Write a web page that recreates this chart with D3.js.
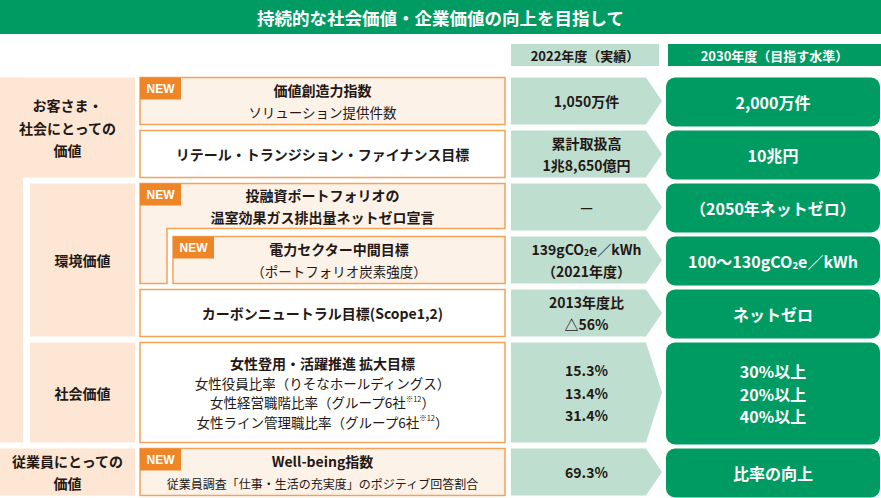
<!DOCTYPE html>
<html>
<head>
<meta charset="utf-8">
<script src="https://cdn.jsdelivr.net/npm/d3@7"></script>
<style>
  body { margin: 0; background: #fff; }
  svg { display: block; font-family: "Noto Sans CJK JP", "Noto Sans", sans-serif; }
</style>
</head>
<body>
<svg id="chart"></svg>
<script>
const width = 881;
const height = 498;

// data
const title = "持続的な社会価値・企業価値の向上を目指して";
const columnHeaders = ["2022年度（実績）", "2030年度（目指す水準）"];

const categories = [
  ["お客さま・", "社会にとっての", "価値"],
  ["環境価値"],
  ["社会価値"],
  ["従業員にとっての", "価値"],
];
const categoryRowCounts = [2, 3, 1, 1];
const categoryIsSub = [false, true, true, false];

const targetLabels = [
  ["価値創造力指数", "ソリューション提供件数"],
  ["リテール・トランジション・ファイナンス目標"],
  ["投融資ポートフォリオの", "温室効果ガス排出量ネットゼロ宣言"],
  ["電力セクター中間目標", "（ポートフォリオ炭素強度）"],
  ["カーボンニュートラル目標(Scope1,2)"],
  ["女性登用・活躍推進 拡大目標", "女性役員比率（りそなホールディングス）",
   "女性経営職階比率（グループ6社[※12]）", "女性ライン管理職比率（グループ6社[※12]）"],
  ["Well-being指数", "従業員調査「仕事・生活の充実度」のポジティブ回答割合"],
];
const headingLineCounts = [1, 1, 2, 1, 1, 1, 1];
const isNew = [true, false, true, true, false, false, true];
const parentRow = [-1, -1, -1, 2, -1, -1, -1];
const rowSpans = [1, 1, 1, 1, 1, 2, 1];

const values2022 = [
  ["1,050万件"],
  ["累計取扱高", "1兆8,650億円"],
  ["—"],
  ["139gCO{2}e／kWh", "（2021年度）"],
  ["2013年度比", "△56%"],
  ["15.3%", "13.4%", "31.4%"],
  ["69.3%"],
];
const targets2030 = [
  ["2,000万件"],
  ["10兆円"],
  ["（2050年ネットゼロ）"],
  ["100〜130gCO{2}e／kWh"],
  ["ネットゼロ"],
  ["30%以上", "20%以上", "40%以上"],
  ["比率の向上"],
];

// colours
const green = "#009B62";
const lightGreen = "#BEDFD0";
const peach = "#FDE6D3";
const cream = "#FCF2E8";
const orange = "#F4A258";
const newOrange = "#EE8527";
const ink = "#231815";

// columns
const col = {
  cat: [0, 135], stripe: 23, sub: 30,
  label: [140, 505], nestIndent: 33,
  val: [511, 646, 662],
  tgt: [666, 880],
};

const svg = d3.select("#chart").attr("width", width).attr("height", height);

// row slots
const slotStart = [];
rowSpans.reduce((acc, s, i) => { slotStart[i] = acc; return acc + s; }, 0);
const y = d3.scaleBand()
  .domain(d3.range(d3.sum(rowSpans)))
  .range([77.5, 495.5])
  .paddingInner(6 / 53);
const rowTop = i => y(slotStart[i]);
const rowBottom = i => y(slotStart[i] + rowSpans[i] - 1) + y.bandwidth();

// text line with {sub} and [sup] parts
function addLine(g, str, cx, cy, size, weight, color) {
  const t = g.append("text")
    .attr("x", cx).attr("y", cy)
    .attr("text-anchor", "middle")
    .attr("dominant-baseline", "central")
    .attr("font-size", size)
    .attr("font-weight", weight)
    .attr("fill", color);
  const parts = str.split(/(\{[^}]*\}|\[[^\]]*\])/).filter(s => s);
  let shift = 0;
  parts.forEach(p => {
    let target = 0, txt = p, fs = null;
    if (p[0] === "{") { target = size * 0.22; txt = p.slice(1, -1); fs = size * 0.6; }
    else if (p[0] === "[") { target = -size * 0.35; txt = p.slice(1, -1); fs = size * 0.55; }
    const ts = t.append("tspan").attr("dy", target - shift).text(txt);
    if (fs) ts.attr("font-size", fs);
    shift = target;
  });
  return t;
}
function addLines(g, lines, cx, cy, lh, styleFn) {
  lines.forEach((l, i) => {
    const s = styleFn(i);
    addLine(g, l, cx, cy + (i - (lines.length - 1) / 2) * lh, s.size, s.weight, s.color);
  });
}

// title banner
svg.append("rect").attr("x", 0).attr("y", 0).attr("width", width).attr("height", 34).attr("fill", green);
addLine(svg, title, width / 2, 17, 17.5, 700, "#fff");

// column headers
svg.append("rect").attr("x", col.val[0]).attr("y", 44).attr("width", col.val[2] - 3 - col.val[0]).attr("height", 22).attr("fill", lightGreen);
addLine(svg, columnHeaders[0], (col.val[0] + col.val[2] - 3) / 2, 55, 13, 700, ink);
svg.append("rect").attr("x", col.tgt[0] + 2).attr("y", 44).attr("width", col.tgt[1] - 1 - col.tgt[0]).attr("height", 22).attr("fill", green);
addLine(svg, columnHeaders[1], (col.tgt[0] + 2 + col.tgt[1] + 1) / 2, 55, 13, 700, "#fff");

// categories
const gCat = svg.append("g");
let rowIdx = 0;
const catRange = categoryRowCounts.map(n => { const r = [rowIdx, rowIdx + n - 1]; rowIdx += n; return r; });
const lastSub = d3.max(catRange.filter((r, i) => categoryIsSub[i]), r => r[1]);
categories.forEach((lines, i) => {
  const top = rowTop(catRange[i][0]);
  const bot = rowBottom(catRange[i][1]);
  const x0 = categoryIsSub[i] ? col.sub : col.cat[0];
  gCat.append("rect").attr("x", x0).attr("y", top).attr("width", col.cat[1] - x0).attr("height", bot - top).attr("fill", peach);
  if (!categoryIsSub[i] && categoryIsSub[i + 1]) {
    gCat.append("rect").attr("x", 0).attr("y", top).attr("width", col.stripe).attr("height", rowBottom(lastSub) - top).attr("fill", peach);
  }
  addLines(gCat, lines, (x0 + col.cat[1]) / 2, (top + bot) / 2, 22.5, () => ({ size: 14, weight: 700, color: ink }));
});

// target label boxes
const gLab = svg.append("g");
targetLabels.forEach((lines, i) => {
  const top = rowTop(i), bot = rowBottom(i);
  const nested = parentRow[i] >= 0;
  const x0 = col.label[0] + (nested ? col.nestIndent : 0);
  const x1 = col.label[1];
  const fill = isNew[i] ? cream : "#fff";
  const child = parentRow.indexOf(i);
  if (child >= 0) {
    const cb = rowBottom(child);
    const mid = bot - 2;
    const sx = x0 + col.nestIndent - 6;
    const p = d3.path();
    p.moveTo(x0, top); p.lineTo(x1, top); p.lineTo(x1, mid); p.lineTo(sx, mid);
    p.lineTo(sx, cb); p.lineTo(x0, cb); p.closePath();
    gLab.append("path").attr("d", p.toString()).attr("fill", fill).attr("stroke", orange).attr("stroke-width", 1.5);
  } else {
    gLab.append("rect").attr("x", x0).attr("y", top).attr("width", x1 - x0).attr("height", bot - top)
      .attr("fill", fill).attr("stroke", orange).attr("stroke-width", 1.5);
  }
  if (isNew[i]) {
    gLab.append("rect").attr("x", x0).attr("y", top).attr("width", 41).attr("height", 22).attr("fill", newOrange);
    gLab.append("text").attr("x", x0 + 20.5).attr("y", top + 11.5)
      .attr("text-anchor", "middle").attr("dominant-baseline", "central")
      .attr("font-family", "Liberation Sans, Arial, sans-serif")
      .attr("font-size", 12).attr("font-weight", 700).attr("fill", "#fff").text("NEW");
  }
  const cy = child >= 0 ? (top + bot - 2) / 2 : (top + bot) / 2;
  const lh = lines.length > 2 ? 19.5 : 21.5;
  addLines(gLab, lines, (x0 + x1) / 2, cy, lh, k => {
    const heading = k < headingLineCounts[i];
    const small = !heading && i === targetLabels.length - 1;
    return { size: heading ? 14 : (small ? 12 : 13.5), weight: heading ? 700 : 400, color: ink };
  });
});

// 2022 arrows
const gVal = svg.append("g");
values2022.forEach((lines, i) => {
  const top = rowTop(i), bot = rowBottom(i);
  const [a, b, tip] = col.val;
  gVal.append("path")
    .attr("d", `M${a},${top}H${b}L${tip},${(top + bot) / 2}L${b},${bot}H${a}Z`)
    .attr("fill", lightGreen);
  addLines(gVal, lines, (a + tip) / 2, (top + bot) / 2, 22.5, () => ({ size: 14, weight: 700, color: ink }));
});

// 2030 targets
const gTgt = svg.append("g");
targets2030.forEach((lines, i) => {
  const top = rowTop(i), bot = rowBottom(i) + 2;
  const [a, b] = col.tgt;
  gTgt.append("rect").attr("x", a).attr("y", top).attr("width", b - a).attr("height", bot - top)
    .attr("rx", 9).attr("fill", green);
  addLines(gTgt, lines, (a + b) / 2, (top + bot) / 2, 22.5, () => ({ size: 16, weight: 700, color: "#fff" }));
});
</script>
</body>
</html>
